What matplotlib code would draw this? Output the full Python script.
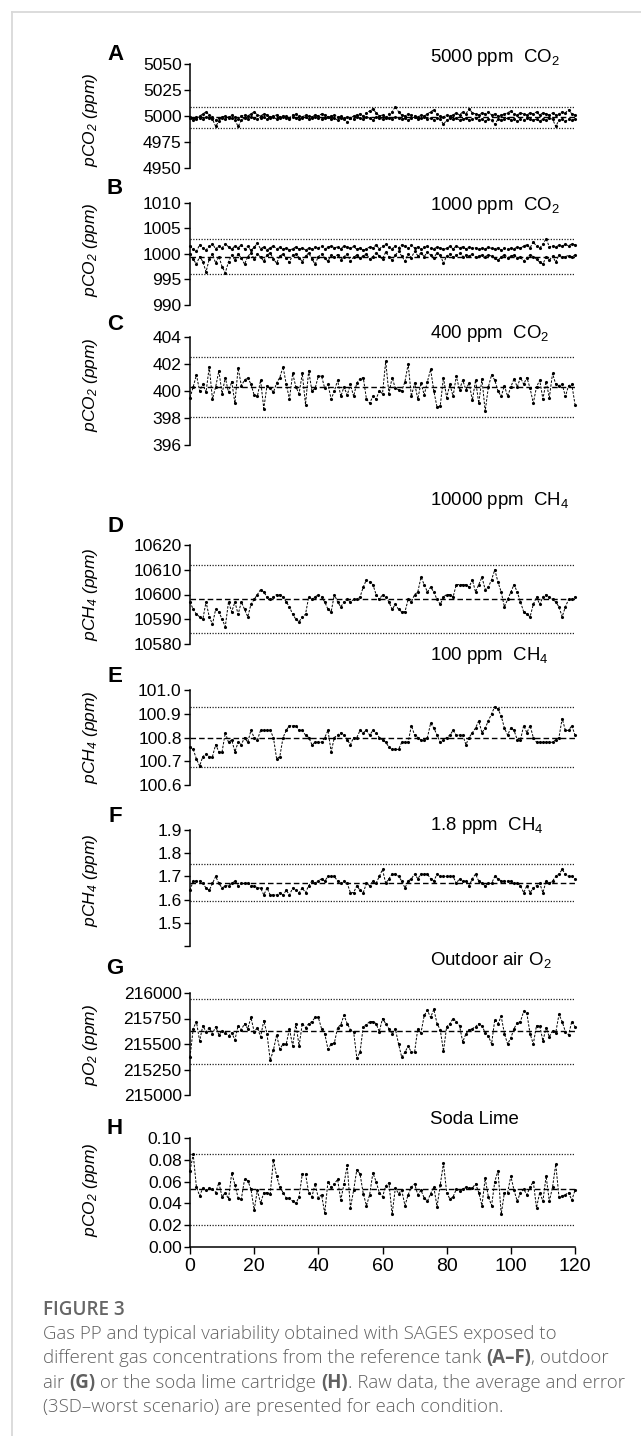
import matplotlib
matplotlib.use("Agg")
import matplotlib.pyplot as plt
from matplotlib.lines import Line2D
import numpy as np

plt.rcParams['font.family'] = ['Liberation Sans', 'DejaVu Sans']
plt.rcParams['mathtext.fontset'] = 'custom'
plt.rcParams['mathtext.rm'] = 'Liberation Sans'
plt.rcParams['mathtext.it'] = 'Liberation Sans:italic'
plt.rcParams['mathtext.bf'] = 'Liberation Sans:bold'
plt.rcParams['mathtext.default'] = 'regular'

# ------------------------------------------------------------------ data
A_TRACE1 = [4999, 4998, 4997, 5000, 5002, 5004, 5001, 4999, 4996, 4998,
            4999, 5000, 4998, 5001, 4999, 4997, 5000, 5001, 5000, 5002,
            5004, 5001, 5000, 5002, 5001, 4999, 5000, 5001, 4999, 5000,
            5000, 4998, 5001, 5002, 5000, 4999, 5001, 5000, 4999, 5001,
            5000, 5002, 5001, 4999, 5000, 5001, 4999, 5000, 4998, 4994,
            4998, 5000, 5001, 5002, 5000, 5003, 5005, 5007, 5003, 5000,
            5001, 4998, 5002, 5004, 5009, 5004, 5001, 5000, 5002, 5001,
            5000, 4999, 5001, 5000, 5002, 5004, 5006, 5002, 5000, 4999,
            5001, 5000, 5001, 5003, 5001, 5004, 5002, 5007, 5003, 5002,
            5001, 5003, 5002, 5004, 5001, 5002, 5000, 5001, 5002, 5003,
            5005, 5002, 5001, 5003, 5002, 5001, 5003, 5002, 5004, 5001,
            5003, 5002, 5001, 5003, 5001, 5002, 5004, 5003, 5006, 5002,
            5001]
A_TRACE2 = [4998, 4996, 4999, 4998, 4997, 4999, 4998, 4997, 4990, 4995,
            4998, 4997, 4999, 4998, 4996, 4990, 4996, 4998, 4997, 4999,
            4998, 4997, 4998, 4999, 4997, 4998, 4999, 4997, 4998, 4999,
            4998, 4997, 4999, 4998, 4997, 4998, 4999, 4997, 4998, 4999,
            4998, 4997, 4998, 4999, 4997, 4998, 4996, 4998, 4997, 4999,
            4998, 4997, 4999, 4998, 4997, 4999, 4998, 4996, 4999, 4998,
            4997, 4999, 4998, 4997, 4999, 4998, 4997, 4998, 4996, 4998,
            4999, 4997, 4998, 4999, 4997, 4998, 4996, 4998, 4997, 4992,
            4996, 4998, 4997, 4998, 4996, 4997, 4998, 4996, 4997, 4998,
            4996, 4997, 4995, 4997, 4996, 4992, 4997, 4996, 4997, 4998,
            4996, 4997, 4995, 4997, 4996, 4998, 4997, 4996, 4997, 4995,
            4997, 4996, 4998, 4997, 4990, 4996, 4997, 4995, 4997, 4996,
            4997]
B_TRACE1 = [1001.5, 1001.0, 1000.5, 1001.8, 1001.2, 1000.8, 1001.5, 1002.0, 1001.0, 1001.6,
            1001.2, 1002.0, 1001.4, 1000.9, 1001.6, 1001.2, 1001.8, 1001.0, 1001.5, 1000.7,
            1001.3, 1002.1, 1001.0, 1001.4, 1000.8, 1001.2, 1001.6, 1001.0, 1001.3, 1000.9,
            1001.2, 1000.8, 1001.0, 1001.4, 1000.9, 1001.2, 1000.8, 1001.1, 1001.0, 1001.3,
            1001.2, 1001.5, 1001.0, 1001.3, 1001.6, 1001.2, 1001.4, 1001.0, 1001.6, 1001.3,
            1001.1, 1001.5, 1000.9, 1001.2, 1000.7, 1001.0, 1001.4, 1001.2, 1001.8, 1001.0,
            1001.5, 1001.9, 1001.3, 1001.0, 1001.6, 1001.2, 1001.8, 1001.5, 1001.1, 1001.7,
            1001.2, 1001.4, 1000.9, 1001.3, 1001.5, 1001.1, 1001.0, 1001.4, 1001.2, 1000.9,
            1001.1, 1001.5, 1001.0, 1001.6, 1001.2, 1001.4, 1001.0, 1001.3, 1001.1, 1001.2,
            1000.9, 1001.2, 1001.0, 1001.3, 1001.1, 1001.0, 1001.2, 1000.8, 1001.1, 1000.9,
            1001.2, 1001.0, 1001.4, 1001.1, 1001.6, 1001.8, 1001.2, 1002.4, 1001.5, 1001.2,
            1001.9, 1003.0, 1001.4, 1001.6, 1001.3, 1001.8, 1001.5, 1001.9, 1001.6, 1002.0,
            1001.8]
B_TRACE2 = [1000.0, 999.0, 998.0, 999.5, 998.5, 996.5, 999.0, 1000.0, 998.2, 999.5,
            997.5, 996.3, 998.5, 999.8, 998.8, 1000.0, 999.2, 998.0, 999.5, 1000.2,
            999.0, 1000.0, 999.4, 998.6, 999.8, 1000.2, 999.0, 998.2, 999.6, 1000.0,
            999.2, 998.4, 999.8, 1000.0, 999.3, 998.5, 999.6, 1000.2, 999.0, 998.0,
            999.5, 1000.0, 999.2, 998.6, 999.8, 999.4, 999.9, 998.9, 999.5, 1000.0,
            998.6, 999.4, 999.8, 999.2, 999.6, 1000.0, 999.0, 999.5, 1000.2, 999.6,
            999.0, 1000.4, 999.5, 998.8, 999.8, 1000.5, 999.6, 998.6, 1000.0, 999.3,
            1000.5, 999.7, 1000.2, 999.5, 1000.4, 999.8, 999.3, 1000.2, 999.8, 998.2,
            999.6, 1000.0, 999.4, 999.8, 1000.1, 999.5, 999.8, 999.6, 1000.0, 999.4,
            999.6, 999.9, 999.5, 999.8, 999.6, 999.2, 998.8, 999.4, 999.9, 999.3,
            999.6, 999.8, 999.2, 999.4, 998.6, 999.3, 999.8, 999.5, 999.0, 998.4,
            998.0, 999.5, 998.8, 999.6, 998.4, 999.8, 999.4, 999.5, 999.7, 999.5,
            999.8]
C_VALUES = [399.5, 400.3, 401.2, 400.0, 400.5, 399.9, 401.8, 399.4, 400.3, 401.5,
            399.8, 401.0, 399.9, 400.7, 399.1, 401.7, 400.4, 400.8, 401.0, 400.5,
            399.7, 399.6, 400.8, 398.7, 400.4, 400.2, 399.9, 400.6, 401.0, 401.8,
            400.5, 399.4, 401.3, 400.3, 399.8, 401.3, 399.0, 401.5, 400.0, 400.2,
            401.1, 401.1, 400.2, 400.5, 399.4, 400.0, 400.8, 399.6, 400.3, 399.7,
            400.5, 399.6, 400.6, 400.9, 401.0, 399.4, 399.1, 399.6, 399.4, 400.0,
            399.8, 402.2, 399.8, 401.0, 400.2, 400.1, 400.0, 400.7, 402.0, 399.6,
            400.6, 399.4, 400.6, 399.7, 400.7, 401.6, 400.0, 398.8, 398.9, 401.0,
            399.5, 400.5, 399.6, 401.1, 400.1, 400.8, 400.1, 400.6, 399.3, 400.8,
            399.1, 400.9, 398.5, 400.3, 401.2, 400.8, 400.0, 399.6, 400.4, 399.6,
            400.3, 400.9, 400.3, 401.0, 400.5, 401.0, 400.2, 399.1, 400.3, 400.8,
            399.4, 400.7, 399.5, 401.3, 400.5, 400.4, 400.5, 399.6, 400.4, 400.5,
            399.0]
D_VALUES = [10597, 10594, 10592, 10591, 10590, 10597, 10591, 10588, 10594, 10593,
            10590, 10587, 10597, 10593, 10597, 10592, 10597, 10594, 10591, 10596,
            10598, 10600, 10602, 10601, 10599, 10598, 10599, 10600, 10600, 10599,
            10597, 10595, 10592, 10590, 10589, 10591, 10592, 10599, 10598, 10599,
            10600, 10599, 10597, 10594, 10593, 10600, 10597, 10595, 10597, 10598,
            10597, 10598, 10598, 10599, 10603, 10606, 10605, 10604, 10600, 10598,
            10600, 10599, 10597, 10594, 10596, 10594, 10593, 10593, 10598, 10597,
            10600, 10601, 10607, 10604, 10601, 10603, 10601, 10598, 10596, 10599,
            10600, 10600, 10599, 10604, 10604, 10604, 10604, 10603, 10606, 10601,
            10604, 10607, 10602, 10603, 10606, 10610, 10605, 10601, 10595, 10598,
            10601, 10604, 10601, 10597, 10593, 10592, 10591, 10596, 10599, 10596,
            10599, 10600, 10599, 10598, 10597, 10595, 10591, 10595, 10598, 10598,
            10599]
E_VALUES = [100.76, 100.75, 100.71, 100.68, 100.72, 100.73, 100.72, 100.72, 100.77, 100.74,
            100.74, 100.82, 100.78, 100.79, 100.74, 100.78, 100.77, 100.80, 100.78, 100.83,
            100.80, 100.79, 100.83, 100.83, 100.83, 100.83, 100.80, 100.71, 100.72, 100.80,
            100.83, 100.85, 100.85, 100.85, 100.83, 100.83, 100.81, 100.80, 100.77, 100.78,
            100.78, 100.78, 100.80, 100.83, 100.74, 100.80, 100.81, 100.82, 100.81, 100.79,
            100.77, 100.80, 100.80, 100.83, 100.82, 100.83, 100.81, 100.83, 100.82, 100.80,
            100.79, 100.78, 100.76, 100.75, 100.75, 100.75, 100.78, 100.78, 100.78, 100.85,
            100.81, 100.80, 100.79, 100.79, 100.80, 100.86, 100.84, 100.81, 100.78, 100.79,
            100.80, 100.81, 100.83, 100.81, 100.81, 100.81, 100.77, 100.80, 100.82, 100.84,
            100.87, 100.82, 100.84, 100.87, 100.90, 100.93, 100.92, 100.89, 100.84, 100.81,
            100.84, 100.83, 100.79, 100.79, 100.85, 100.82, 100.85, 100.80, 100.78, 100.78,
            100.78, 100.78, 100.78, 100.78, 100.79, 100.80, 100.88, 100.83, 100.83, 100.85,
            100.81]
F_VALUES = [1.64, 1.68, 1.68, 1.68, 1.67, 1.65, 1.64, 1.67, 1.70, 1.67,
            1.65, 1.66, 1.66, 1.67, 1.68, 1.66, 1.67, 1.67, 1.67, 1.66,
            1.66, 1.65, 1.65, 1.62, 1.65, 1.62, 1.62, 1.62, 1.63, 1.62,
            1.64, 1.62, 1.65, 1.64, 1.63, 1.65, 1.63, 1.66, 1.68, 1.67,
            1.68, 1.69, 1.68, 1.70, 1.70, 1.70, 1.68, 1.67, 1.68, 1.67,
            1.63, 1.63, 1.66, 1.64, 1.63, 1.67, 1.66, 1.68, 1.67, 1.70,
            1.73, 1.67, 1.69, 1.71, 1.71, 1.70, 1.68, 1.65, 1.68, 1.69,
            1.71, 1.69, 1.71, 1.71, 1.71, 1.69, 1.68, 1.71, 1.70, 1.70,
            1.70, 1.70, 1.70, 1.67, 1.69, 1.68, 1.68, 1.66, 1.69, 1.71,
            1.68, 1.67, 1.66, 1.67, 1.67, 1.70, 1.69, 1.68, 1.68, 1.68,
            1.68, 1.67, 1.67, 1.66, 1.63, 1.66, 1.63, 1.65, 1.66, 1.67,
            1.63, 1.68, 1.67, 1.68, 1.70, 1.71, 1.73, 1.71, 1.70, 1.70,
            1.69]
G_VALUES = [215370, 215650, 215720, 215530, 215680, 215620, 215660, 215600, 215670, 215590,
            215630, 215610, 215580, 215610, 215540, 215680, 215640, 215700, 215650, 215760,
            215620, 215660, 215570, 215730, 215600, 215340, 215440, 215590, 215450, 215500,
            215500, 215650, 215480, 215700, 215480, 215700, 215660, 215700, 215720, 215760,
            215760, 215650, 215600, 215450, 215500, 215510, 215660, 215690, 215780, 215700,
            215640, 215620, 215360, 215420, 215670, 215690, 215720, 215720, 215700, 215620,
            215750, 215700, 215650, 215600, 215650, 215500, 215370, 215420, 215480, 215420,
            215420, 215650, 215610, 215780, 215830, 215760, 215840, 215700, 215640, 215430,
            215670, 215700, 215750, 215720, 215680, 215520, 215600, 215640, 215650, 215670,
            215700, 215680, 215610, 215580, 215500, 215740, 215700, 215770, 215600, 215500,
            215560, 215650, 215710, 215720, 215820, 215800, 215600, 215500, 215680, 215680,
            215530, 215660, 215570, 215630, 215610, 215790, 215720, 215620, 215590, 215720,
            215670]
H_VALUES = [0.070, 0.085, 0.055, 0.047, 0.054, 0.052, 0.054, 0.053, 0.050, 0.059,
            0.046, 0.050, 0.044, 0.068, 0.057, 0.045, 0.044, 0.062, 0.061, 0.053,
            0.034, 0.052, 0.040, 0.050, 0.050, 0.049, 0.080, 0.065, 0.055, 0.050,
            0.045, 0.045, 0.042, 0.040, 0.046, 0.067, 0.067, 0.050, 0.046, 0.058,
            0.045, 0.048, 0.031, 0.060, 0.055, 0.058, 0.062, 0.043, 0.058, 0.075,
            0.036, 0.052, 0.071, 0.067, 0.049, 0.038, 0.048, 0.068, 0.060, 0.050,
            0.046, 0.056, 0.059, 0.030, 0.054, 0.049, 0.052, 0.038, 0.048, 0.055,
            0.058, 0.048, 0.052, 0.045, 0.042, 0.049, 0.055, 0.037, 0.057, 0.077,
            0.050, 0.044, 0.046, 0.053, 0.051, 0.053, 0.055, 0.054, 0.054, 0.058,
            0.050, 0.038, 0.063, 0.046, 0.038, 0.060, 0.070, 0.030, 0.050, 0.050,
            0.065, 0.052, 0.042, 0.050, 0.053, 0.048, 0.055, 0.060, 0.036, 0.050,
            0.042, 0.065, 0.042, 0.055, 0.076, 0.046, 0.047, 0.048, 0.050, 0.043,
            0.052]

PANEL_LETTERS = ["A", "B", "C", "D", "E", "F", "G", "H"]
PANEL_TITLES = ["5000 ppm  CO$_2$", "1000 ppm  CO$_2$", "400 ppm  CO$_2$",
                "10000 ppm  CH$_4$", "100 ppm  CH$_4$", "1.8 ppm  CH$_4$",
                "Outdoor air O$_2$", "Soda Lime"]
Y_LABELS = ["pCO$_2$ (ppm)", "pCO$_2$ (ppm)", "pCO$_2$ (ppm)",
            "pCH$_4$ (ppm)", "pCH$_4$ (ppm)", "pCH$_4$ (ppm)",
            "pO$_2$ (ppm)", "pCO$_2$ (ppm)"]
SERIES = [[A_TRACE1, A_TRACE2], [B_TRACE1, B_TRACE2], [C_VALUES], [D_VALUES],
          [E_VALUES], [F_VALUES], [G_VALUES], [H_VALUES]]
MEANS = [4999, 999.5, 400.3, 10598, 100.80, 1.673, 215623, 0.0529]
UPPER = [5009, 1003.0, 402.55, 10611.8, 100.93, 1.753, 215941, 0.085]
LOWER = [4988.8, 996.0, 398.1, 10584.3, 100.675, 1.594, 215305, 0.020]
Y_TICKS = [[4950, 4975, 5000, 5025, 5050],
           [990, 995, 1000, 1005, 1010],
           [396, 398, 400, 402, 404],
           [10580, 10590, 10600, 10610, 10620],
           [100.6, 100.7, 100.8, 100.9, 101.0],
           [1.4, 1.5, 1.6, 1.7, 1.8, 1.9],
           [215000, 215250, 215500, 215750, 216000],
           [0.00, 0.02, 0.04, 0.06, 0.08, 0.10]]
Y_TICK_LABELS = [["4950", "4975", "5000", "5025", "5050"],
                 ["990", "995", "1000", "1005", "1010"],
                 ["396", "398", "400", "402", "404"],
                 ["10580", "10590", "10600", "10610", "10620"],
                 ["100.6", "100.7", "100.8", "100.9", "101.0"],
                 ["", "1.5", "1.6", "1.7", "1.8", "1.9"],
                 ["215000", "215250", "215500", "215750", "216000"],
                 ["0.00", "0.02", "0.04", "0.06", "0.08", "0.10"]]
X_TICKS = [0, 20, 40, 60, 80, 100, 120]

CAPTION_HEAD = "FIGURE 3"
CAPTION_LINES = [
    [("Gas PP and typical variability obtained with SAGES exposed to", False)],
    [("different gas concentrations from the reference tank ", False), ("(A\u2013F)", True),
     (", outdoor", False)],
    [("air ", False), ("(G)", True), (" or the soda lime cartridge ", False), ("(H)", True),
     (". Raw data, the average and error", False)],
    [("(3SD\u2013worst scenario) are presented for each condition.", False)],
]

# ------------------------------------------------------------------ layout (pixels)
W, H = 641, 1436
DPI = 100
fig = plt.figure(figsize=(W / DPI, H / DPI), dpi=DPI)
fig.patch.set_facecolor("white")


def fx(px):
    return px / W


def fy(py):
    return 1 - py / H


AX_LEFT, AX_RIGHT = 190, 575
AX_TOPS = [64, 203, 337, 545, 690, 830, 993, 1138]
AX_BOTS = [168, 305, 445, 644, 785, 946, 1095, 1247]
TITLE_Y = [57, 205, 333, 500, 656, 825, 960, 1119]
LETTER_Y = [55, 189, 324, 526, 676, 816, 968, 1128]
YLAB_Y = [120, 250, 385, 594, 737, 880, 1045, 1190]

# light frame of the page
fig.add_artist(Line2D([fx(12), 1.0], [fy(12), fy(12)], color="#d9d9d9", lw=1.3))
fig.add_artist(Line2D([fx(12), fx(12)], [fy(12), 0.0], color="#d9d9d9", lw=1.3))

for i in range(8):
    top, bot = AX_TOPS[i], AX_BOTS[i]
    ax = fig.add_axes([fx(AX_LEFT), fy(bot), fx(AX_RIGHT) - fx(AX_LEFT), (bot - top) / H])
    ax.set_xlim(0, 120)
    ticks = Y_TICKS[i]
    ax.set_ylim(ticks[0], ticks[-1])
    ax.set_yticks(ticks)
    ax.set_yticklabels(Y_TICK_LABELS[i])
    for s in ["top", "right"]:
        ax.spines[s].set_visible(False)
    ax.spines["left"].set_linewidth(1.1)
    ax.tick_params(axis="y", direction="out", length=4, width=1.0, labelsize=12.5, pad=2)
    if i < 7:
        ax.spines["bottom"].set_visible(False)
        ax.set_xticks([])
    else:
        ax.spines["bottom"].set_linewidth(1.1)
        ax.set_xticks(X_TICKS)
        ax.set_xticklabels([str(v) for v in X_TICKS])
        ax.tick_params(axis="x", direction="out", length=5, width=1.0, labelsize=14, pad=3)
    ax.patch.set_alpha(0)

    ax.hlines([UPPER[i], LOWER[i]], 0, 120, colors="#222222", linestyles=[(0, (1, 1.2))],
              lw=0.9)
    ax.hlines(MEANS[i], 0, 120, colors="black", linestyles=[(0, (4, 2.2))], lw=1.0)
    for ser in SERIES[i]:
        xs = np.arange(len(ser))
        ax.plot(xs, ser, color="black", lw=0.7, linestyle=(0, (2.5, 1.5)),
                marker="o", ms=1.25, mfc="black", mec="black", clip_on=False)

    fig.text(fx(430), fy(TITLE_Y[i]), PANEL_TITLES[i], fontsize=13.4, ha="left",
             va="center", color="black")
    fig.text(fx(115), fy(LETTER_Y[i]), PANEL_LETTERS[i], fontsize=16, fontweight="bold",
             ha="center", va="center", color="black")
    fig.text(fx(90), fy(YLAB_Y[i]), Y_LABELS[i], fontsize=12.5, style="italic",
             rotation=90, ha="center", va="center", color="black")

# ------------------------------------------------------------------ caption
CAP_FONT = ["Open Sans", "DejaVu Sans"]
CAP_COLOR = "#606060"
renderer = fig.canvas.get_renderer()


def line_width(segments, size):
    total = 0.0
    for txt, bold in segments:
        t = fig.text(0, 0, txt, fontsize=size, family=CAP_FONT,
                     weight="bold" if bold else "light")
        total += t.get_window_extent(renderer).width
        t.remove()
    return total


base = 12.0
cap_size = base * 582.0 / line_width(CAPTION_LINES[2], base)

head = fig.text(fx(43), fy(1310), CAPTION_HEAD, fontsize=base, family=CAP_FONT,
                weight="semibold", color="#666666", ha="left", va="center")
hw = head.get_window_extent(renderer).width
head.set_fontsize(base * 82.0 / hw)

CAP_Y = [1334, 1358, 1383, 1407]
for segs, ypx in zip(CAPTION_LINES, CAP_Y):
    xpos = fx(43)
    for txt, bold in segs:
        t = fig.text(xpos, fy(ypx), txt, fontsize=cap_size, family=CAP_FONT,
                     weight="bold" if bold else "light", color=CAP_COLOR,
                     ha="left", va="center")
        xpos += t.get_window_extent(renderer).width / W

fig.savefig("out.png", dpi=DPI, facecolor="white")
